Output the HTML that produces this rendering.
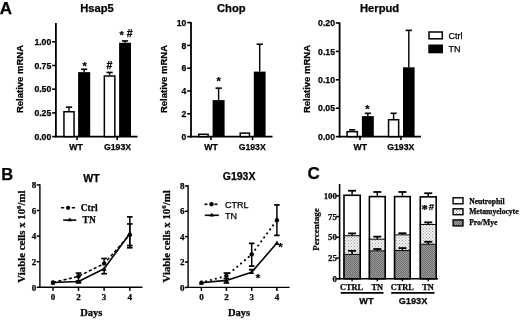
<!DOCTYPE html>
<html><head><meta charset="utf-8"><style>
html,body{margin:0;padding:0;background:#fff;}
svg{display:block;will-change:transform;}
text{stroke:#000;stroke-width:0.25px;paint-order:stroke;}
</style></head><body>
<svg width="520" height="320" viewBox="0 0 520 320">
<rect width="520" height="320" fill="#fff"/>
<text x="-0.30" y="14.40" font-family='"Liberation Sans", sans-serif' font-size="17" font-weight="bold" text-anchor="start">A</text>
<line x1="55.90" y1="23.00" x2="55.90" y2="137.50" stroke="#000" stroke-width="1.8"/>
<line x1="55.00" y1="136.60" x2="137.50" y2="136.60" stroke="#000" stroke-width="1.8"/>
<line x1="52.10" y1="136.60" x2="55.90" y2="136.60" stroke="#000" stroke-width="1.6"/>
<text x="51.30" y="139.70" font-family='"Liberation Sans", sans-serif' font-size="8.7" font-weight="bold" text-anchor="end">0.00</text>
<line x1="52.10" y1="112.90" x2="55.90" y2="112.90" stroke="#000" stroke-width="1.6"/>
<text x="51.30" y="116.00" font-family='"Liberation Sans", sans-serif' font-size="8.7" font-weight="bold" text-anchor="end">0.25</text>
<line x1="52.10" y1="89.20" x2="55.90" y2="89.20" stroke="#000" stroke-width="1.6"/>
<text x="51.30" y="92.30" font-family='"Liberation Sans", sans-serif' font-size="8.7" font-weight="bold" text-anchor="end">0.50</text>
<line x1="52.10" y1="65.50" x2="55.90" y2="65.50" stroke="#000" stroke-width="1.6"/>
<text x="51.30" y="68.60" font-family='"Liberation Sans", sans-serif' font-size="8.7" font-weight="bold" text-anchor="end">0.75</text>
<line x1="52.10" y1="41.80" x2="55.90" y2="41.80" stroke="#000" stroke-width="1.6"/>
<text x="51.30" y="44.90" font-family='"Liberation Sans", sans-serif' font-size="8.7" font-weight="bold" text-anchor="end">1.00</text>
<line x1="77.00" y1="136.60" x2="77.00" y2="140.10" stroke="#000" stroke-width="1.6"/>
<line x1="117.20" y1="136.60" x2="117.20" y2="140.10" stroke="#000" stroke-width="1.6"/>
<line x1="69.00" y1="107.12" x2="69.00" y2="111.00" stroke="#000" stroke-width="1.4"/>
<line x1="65.90" y1="107.12" x2="72.10" y2="107.12" stroke="#000" stroke-width="1.6"/>
<rect x="63.95" y="111.75" width="10.10" height="24.85" fill="#fff" stroke="#000" stroke-width="1.5"/>
<line x1="84.15" y1="69.29" x2="84.15" y2="72.14" stroke="#000" stroke-width="1.4"/>
<line x1="81.05" y1="69.29" x2="87.25" y2="69.29" stroke="#000" stroke-width="1.6"/>
<rect x="78.10" y="72.14" width="12.10" height="64.46" fill="#000"/>
<line x1="109.60" y1="72.42" x2="109.60" y2="75.26" stroke="#000" stroke-width="1.4"/>
<line x1="106.50" y1="72.42" x2="112.70" y2="72.42" stroke="#000" stroke-width="1.6"/>
<rect x="104.35" y="76.01" width="10.50" height="60.59" fill="#fff" stroke="#000" stroke-width="1.5"/>
<line x1="125.05" y1="40.95" x2="125.05" y2="42.75" stroke="#000" stroke-width="1.4"/>
<line x1="121.95" y1="40.95" x2="128.15" y2="40.95" stroke="#000" stroke-width="1.6"/>
<rect x="119.10" y="42.75" width="11.90" height="93.85" fill="#000"/>
<text x="97.00" y="11.80" font-family='"Liberation Sans", sans-serif' font-size="11.2" font-weight="bold" text-anchor="middle">Hsap5</text>
<text x="23.10" y="79.00" font-family='"Liberation Sans", sans-serif' font-size="9.5" font-weight="bold" text-anchor="middle" transform="rotate(-90 23.10 79.00)">Relative mRNA</text>
<text x="76.00" y="149.60" font-family='"Liberation Sans", sans-serif' font-size="8.7" font-weight="bold" text-anchor="middle">WT</text>
<text x="117.50" y="149.60" font-family='"Liberation Sans", sans-serif' font-size="8.7" font-weight="bold" text-anchor="middle">G193X</text>
<text x="84.60" y="69.55" font-family='"Liberation Sans", sans-serif' font-size="11" font-weight="bold" text-anchor="middle">*</text>
<text x="109.30" y="69.00" font-family='"Liberation Sans", sans-serif' font-size="10.5" font-weight="bold" text-anchor="middle">#</text>
<text x="121.70" y="38.70" font-family='"Liberation Sans", sans-serif' font-size="11" font-weight="bold" text-anchor="middle">*</text>
<text x="129.60" y="37.20" font-family='"Liberation Sans", sans-serif' font-size="10.5" font-weight="bold" text-anchor="middle">#</text>
<line x1="191.00" y1="22.00" x2="191.00" y2="137.50" stroke="#000" stroke-width="1.8"/>
<line x1="190.10" y1="136.60" x2="272.50" y2="136.60" stroke="#000" stroke-width="1.8"/>
<line x1="187.20" y1="136.60" x2="191.00" y2="136.60" stroke="#000" stroke-width="1.6"/>
<text x="186.40" y="139.70" font-family='"Liberation Sans", sans-serif' font-size="8.7" font-weight="bold" text-anchor="end">0</text>
<line x1="187.20" y1="113.80" x2="191.00" y2="113.80" stroke="#000" stroke-width="1.6"/>
<text x="186.40" y="116.90" font-family='"Liberation Sans", sans-serif' font-size="8.7" font-weight="bold" text-anchor="end">2</text>
<line x1="187.20" y1="91.00" x2="191.00" y2="91.00" stroke="#000" stroke-width="1.6"/>
<text x="186.40" y="94.10" font-family='"Liberation Sans", sans-serif' font-size="8.7" font-weight="bold" text-anchor="end">4</text>
<line x1="187.20" y1="68.20" x2="191.00" y2="68.20" stroke="#000" stroke-width="1.6"/>
<text x="186.40" y="71.30" font-family='"Liberation Sans", sans-serif' font-size="8.7" font-weight="bold" text-anchor="end">6</text>
<line x1="187.20" y1="45.40" x2="191.00" y2="45.40" stroke="#000" stroke-width="1.6"/>
<text x="186.40" y="48.50" font-family='"Liberation Sans", sans-serif' font-size="8.7" font-weight="bold" text-anchor="end">8</text>
<line x1="187.20" y1="22.60" x2="191.00" y2="22.60" stroke="#000" stroke-width="1.6"/>
<text x="186.40" y="25.70" font-family='"Liberation Sans", sans-serif' font-size="8.7" font-weight="bold" text-anchor="end">10</text>
<line x1="211.00" y1="136.60" x2="211.00" y2="140.10" stroke="#000" stroke-width="1.6"/>
<line x1="252.50" y1="136.60" x2="252.50" y2="140.10" stroke="#000" stroke-width="1.6"/>
<rect x="198.75" y="134.27" width="9.30" height="2.33" fill="#fff" stroke="#000" stroke-width="1.5"/>
<line x1="218.60" y1="88.15" x2="218.60" y2="100.12" stroke="#000" stroke-width="1.4"/>
<line x1="215.50" y1="88.15" x2="221.70" y2="88.15" stroke="#000" stroke-width="1.6"/>
<rect x="212.60" y="100.12" width="12.00" height="36.48" fill="#000"/>
<rect x="240.25" y="133.13" width="9.20" height="3.47" fill="#fff" stroke="#000" stroke-width="1.5"/>
<line x1="259.70" y1="44.26" x2="259.70" y2="71.62" stroke="#000" stroke-width="1.4"/>
<line x1="256.60" y1="44.26" x2="262.80" y2="44.26" stroke="#000" stroke-width="1.6"/>
<rect x="253.80" y="71.62" width="11.80" height="64.98" fill="#000"/>
<text x="231.30" y="11.80" font-family='"Liberation Sans", sans-serif' font-size="11.2" font-weight="bold" text-anchor="middle">Chop</text>
<text x="167.10" y="79.00" font-family='"Liberation Sans", sans-serif' font-size="9.5" font-weight="bold" text-anchor="middle" transform="rotate(-90 167.10 79.00)">Relative mRNA</text>
<text x="211.10" y="149.60" font-family='"Liberation Sans", sans-serif' font-size="8.7" font-weight="bold" text-anchor="middle">WT</text>
<text x="252.20" y="149.60" font-family='"Liberation Sans", sans-serif' font-size="8.7" font-weight="bold" text-anchor="middle">G193X</text>
<text x="218.70" y="84.80" font-family='"Liberation Sans", sans-serif' font-size="11" font-weight="bold" text-anchor="middle">*</text>
<line x1="339.60" y1="22.50" x2="339.60" y2="137.50" stroke="#000" stroke-width="1.8"/>
<line x1="338.70" y1="136.60" x2="421.00" y2="136.60" stroke="#000" stroke-width="1.8"/>
<line x1="335.80" y1="136.60" x2="339.60" y2="136.60" stroke="#000" stroke-width="1.6"/>
<text x="335.00" y="139.70" font-family='"Liberation Sans", sans-serif' font-size="8.7" font-weight="bold" text-anchor="end">0.00</text>
<line x1="335.80" y1="108.20" x2="339.60" y2="108.20" stroke="#000" stroke-width="1.6"/>
<text x="335.00" y="111.30" font-family='"Liberation Sans", sans-serif' font-size="8.7" font-weight="bold" text-anchor="end">0.05</text>
<line x1="335.80" y1="79.80" x2="339.60" y2="79.80" stroke="#000" stroke-width="1.6"/>
<text x="335.00" y="82.90" font-family='"Liberation Sans", sans-serif' font-size="8.7" font-weight="bold" text-anchor="end">0.10</text>
<line x1="335.80" y1="51.40" x2="339.60" y2="51.40" stroke="#000" stroke-width="1.6"/>
<text x="335.00" y="54.50" font-family='"Liberation Sans", sans-serif' font-size="8.7" font-weight="bold" text-anchor="end">0.15</text>
<line x1="335.80" y1="23.00" x2="339.60" y2="23.00" stroke="#000" stroke-width="1.6"/>
<text x="335.00" y="26.10" font-family='"Liberation Sans", sans-serif' font-size="8.7" font-weight="bold" text-anchor="end">0.20</text>
<line x1="360.00" y1="136.60" x2="360.00" y2="140.10" stroke="#000" stroke-width="1.6"/>
<line x1="401.00" y1="136.60" x2="401.00" y2="140.10" stroke="#000" stroke-width="1.6"/>
<line x1="352.20" y1="129.78" x2="352.20" y2="130.92" stroke="#000" stroke-width="1.4"/>
<line x1="349.10" y1="129.78" x2="355.30" y2="129.78" stroke="#000" stroke-width="1.6"/>
<rect x="347.05" y="131.67" width="10.30" height="4.93" fill="#fff" stroke="#000" stroke-width="1.5"/>
<line x1="367.85" y1="113.31" x2="367.85" y2="116.15" stroke="#000" stroke-width="1.4"/>
<line x1="364.75" y1="113.31" x2="370.95" y2="113.31" stroke="#000" stroke-width="1.6"/>
<rect x="361.90" y="116.15" width="11.90" height="20.45" fill="#000"/>
<line x1="393.60" y1="113.31" x2="393.60" y2="118.99" stroke="#000" stroke-width="1.4"/>
<line x1="390.50" y1="113.31" x2="396.70" y2="113.31" stroke="#000" stroke-width="1.6"/>
<rect x="388.55" y="119.74" width="10.10" height="16.86" fill="#fff" stroke="#000" stroke-width="1.5"/>
<line x1="408.80" y1="30.38" x2="408.80" y2="67.30" stroke="#000" stroke-width="1.4"/>
<line x1="405.70" y1="30.38" x2="411.90" y2="30.38" stroke="#000" stroke-width="1.6"/>
<rect x="403.00" y="67.30" width="11.60" height="69.30" fill="#000"/>
<text x="379.60" y="11.80" font-family='"Liberation Sans", sans-serif' font-size="11.2" font-weight="bold" text-anchor="middle">Herpud</text>
<text x="310.20" y="79.00" font-family='"Liberation Sans", sans-serif' font-size="9.5" font-weight="bold" text-anchor="middle" transform="rotate(-90 310.20 79.00)">Relative mRNA</text>
<text x="360.30" y="149.60" font-family='"Liberation Sans", sans-serif' font-size="8.7" font-weight="bold" text-anchor="middle">WT</text>
<text x="400.80" y="149.60" font-family='"Liberation Sans", sans-serif' font-size="8.7" font-weight="bold" text-anchor="middle">G193X</text>
<text x="367.50" y="112.80" font-family='"Liberation Sans", sans-serif' font-size="11" font-weight="bold" text-anchor="middle">*</text>
<rect x="429.00" y="32.00" width="13.30" height="6.80" fill="#fff" stroke="#000" stroke-width="1.5"/>
<rect x="428.30" y="44.50" width="14.70" height="8.80" fill="#000"/>
<text x="448.50" y="39.00" font-family='"Liberation Sans", sans-serif' font-size="9" font-weight="normal" text-anchor="start">Ctrl</text>
<text x="448.50" y="52.30" font-family='"Liberation Sans", sans-serif' font-size="9" font-weight="normal" text-anchor="start">TN</text>
<text x="1.30" y="180.10" font-family='"Liberation Sans", sans-serif' font-size="16.5" font-weight="bold" text-anchor="start">B</text>
<line x1="39.90" y1="184.30" x2="39.90" y2="288.00" stroke="#000" stroke-width="1.4"/>
<line x1="39.20" y1="287.30" x2="142.50" y2="287.30" stroke="#000" stroke-width="1.4"/>
<line x1="36.70" y1="287.30" x2="39.90" y2="287.30" stroke="#000" stroke-width="1.5"/>
<text x="36.30" y="290.50" font-family='"Liberation Serif", serif' font-size="9" font-weight="bold" text-anchor="end">0</text>
<line x1="36.70" y1="261.70" x2="39.90" y2="261.70" stroke="#000" stroke-width="1.5"/>
<text x="36.30" y="264.90" font-family='"Liberation Serif", serif' font-size="9" font-weight="bold" text-anchor="end">2</text>
<line x1="36.70" y1="236.10" x2="39.90" y2="236.10" stroke="#000" stroke-width="1.5"/>
<text x="36.30" y="239.30" font-family='"Liberation Serif", serif' font-size="9" font-weight="bold" text-anchor="end">4</text>
<line x1="36.70" y1="210.50" x2="39.90" y2="210.50" stroke="#000" stroke-width="1.5"/>
<text x="36.30" y="213.70" font-family='"Liberation Serif", serif' font-size="9" font-weight="bold" text-anchor="end">6</text>
<line x1="36.70" y1="184.90" x2="39.90" y2="184.90" stroke="#000" stroke-width="1.5"/>
<text x="36.30" y="188.10" font-family='"Liberation Serif", serif' font-size="9" font-weight="bold" text-anchor="end">8</text>
<line x1="53.00" y1="287.30" x2="53.00" y2="290.80" stroke="#000" stroke-width="1.5"/>
<text x="53.00" y="300.30" font-family='"Liberation Serif", serif' font-size="9" font-weight="bold" text-anchor="middle">0</text>
<line x1="78.50" y1="287.30" x2="78.50" y2="290.80" stroke="#000" stroke-width="1.5"/>
<text x="78.50" y="300.30" font-family='"Liberation Serif", serif' font-size="9" font-weight="bold" text-anchor="middle">2</text>
<line x1="104.10" y1="287.30" x2="104.10" y2="290.80" stroke="#000" stroke-width="1.5"/>
<text x="104.10" y="300.30" font-family='"Liberation Serif", serif' font-size="9" font-weight="bold" text-anchor="middle">3</text>
<line x1="129.80" y1="287.30" x2="129.80" y2="290.80" stroke="#000" stroke-width="1.5"/>
<text x="129.80" y="300.30" font-family='"Liberation Serif", serif' font-size="9" font-weight="bold" text-anchor="middle">4</text>
<text x="91.30" y="315.50" font-family='"Liberation Serif", serif' font-size="10.5" font-weight="bold" text-anchor="middle">Days</text>
<text x="91.40" y="182.00" font-family='"Liberation Sans", sans-serif' font-size="10.5" font-weight="bold" text-anchor="middle">WT</text>
<text x="24.60" y="236.60" font-family='"Liberation Serif", serif' font-size="10.8" font-weight="bold" text-anchor="middle" transform="rotate(-90 24.60 236.60)">Viable cells x 10<tspan dy="-4" font-size="6.8">6</tspan><tspan dy="4">/ml</tspan></text>
<line x1="78.50" y1="280.90" x2="78.50" y2="276.29" stroke="#000" stroke-width="1.5"/>
<line x1="75.70" y1="280.90" x2="81.30" y2="280.90" stroke="#000" stroke-width="1.7"/>
<line x1="78.50" y1="273.09" x2="78.50" y2="276.29" stroke="#000" stroke-width="1.5"/>
<line x1="75.70" y1="273.09" x2="81.30" y2="273.09" stroke="#000" stroke-width="1.7"/>
<line x1="104.10" y1="258.50" x2="104.10" y2="263.62" stroke="#000" stroke-width="1.5"/>
<line x1="101.30" y1="258.50" x2="106.90" y2="258.50" stroke="#000" stroke-width="1.7"/>
<line x1="129.80" y1="247.75" x2="129.80" y2="234.82" stroke="#000" stroke-width="1.5"/>
<line x1="127.00" y1="247.75" x2="132.60" y2="247.75" stroke="#000" stroke-width="1.7"/>
<line x1="129.80" y1="216.90" x2="129.80" y2="234.82" stroke="#000" stroke-width="1.5"/>
<line x1="127.00" y1="216.90" x2="132.60" y2="216.90" stroke="#000" stroke-width="1.7"/>
<line x1="78.50" y1="282.69" x2="78.50" y2="281.54" stroke="#000" stroke-width="1.5"/>
<line x1="75.70" y1="282.69" x2="81.30" y2="282.69" stroke="#000" stroke-width="1.7"/>
<line x1="104.10" y1="273.73" x2="104.10" y2="268.74" stroke="#000" stroke-width="1.5"/>
<line x1="101.30" y1="273.73" x2="106.90" y2="273.73" stroke="#000" stroke-width="1.7"/>
<line x1="129.80" y1="245.57" x2="129.80" y2="233.54" stroke="#000" stroke-width="1.5"/>
<line x1="127.00" y1="245.57" x2="132.60" y2="245.57" stroke="#000" stroke-width="1.7"/>
<line x1="129.80" y1="223.94" x2="129.80" y2="233.54" stroke="#000" stroke-width="1.5"/>
<line x1="127.00" y1="223.94" x2="132.60" y2="223.94" stroke="#000" stroke-width="1.7"/>
<polyline points="53.00,282.56 78.50,276.29 104.10,263.62 129.80,234.82" fill="none" stroke="#000" stroke-width="1.5" stroke-dasharray="3.2,2.2" stroke-linejoin="round"/>
<polyline points="53.00,282.56 78.50,281.54 104.10,268.74 129.80,233.54" fill="none" stroke="#000" stroke-width="1.6" stroke-linejoin="round"/>
<circle cx="53.00" cy="282.56" r="2.2" fill="#000"/>
<circle cx="78.50" cy="276.29" r="2.2" fill="#000"/>
<circle cx="104.10" cy="263.62" r="2.2" fill="#000"/>
<circle cx="129.80" cy="234.82" r="2.2" fill="#000"/>
<path d="M50.50,284.46 L55.50,284.46 L53.00,280.16 Z" fill="#000"/>
<path d="M76.00,283.44 L81.00,283.44 L78.50,279.14 Z" fill="#000"/>
<path d="M101.60,270.64 L106.60,270.64 L104.10,266.34 Z" fill="#000"/>
<path d="M127.30,235.44 L132.30,235.44 L129.80,231.14 Z" fill="#000"/>
<line x1="61.00" y1="207.80" x2="75.20" y2="207.80" stroke="#000" stroke-width="1.5" stroke-dasharray="3.2,2.2"/>
<circle cx="68.10" cy="207.80" r="2.1" fill="#000"/>
<line x1="63.20" y1="220.10" x2="76.30" y2="220.10" stroke="#000" stroke-width="1.6"/>
<path d="M67.35,221.30 L72.15,221.30 L69.75,217.50 Z" fill="#000"/>
<text x="89.20" y="211.10" font-family='"Liberation Serif", serif' font-size="9.5" font-weight="bold" text-anchor="middle">Ctrl</text>
<text x="89.20" y="223.40" font-family='"Liberation Serif", serif' font-size="9.5" font-weight="bold" text-anchor="middle">TN</text>
<line x1="188.10" y1="185.30" x2="188.10" y2="288.10" stroke="#000" stroke-width="1.4"/>
<line x1="187.40" y1="287.40" x2="289.60" y2="287.40" stroke="#000" stroke-width="1.4"/>
<line x1="184.90" y1="287.40" x2="188.10" y2="287.40" stroke="#000" stroke-width="1.5"/>
<text x="184.50" y="290.60" font-family='"Liberation Serif", serif' font-size="9" font-weight="bold" text-anchor="end">0</text>
<line x1="184.90" y1="262.02" x2="188.10" y2="262.02" stroke="#000" stroke-width="1.5"/>
<text x="184.50" y="265.22" font-family='"Liberation Serif", serif' font-size="9" font-weight="bold" text-anchor="end">2</text>
<line x1="184.90" y1="236.65" x2="188.10" y2="236.65" stroke="#000" stroke-width="1.5"/>
<text x="184.50" y="239.85" font-family='"Liberation Serif", serif' font-size="9" font-weight="bold" text-anchor="end">4</text>
<line x1="184.90" y1="211.28" x2="188.10" y2="211.28" stroke="#000" stroke-width="1.5"/>
<text x="184.50" y="214.47" font-family='"Liberation Serif", serif' font-size="9" font-weight="bold" text-anchor="end">6</text>
<line x1="184.90" y1="185.90" x2="188.10" y2="185.90" stroke="#000" stroke-width="1.5"/>
<text x="184.50" y="189.10" font-family='"Liberation Serif", serif' font-size="9" font-weight="bold" text-anchor="end">8</text>
<line x1="201.40" y1="287.40" x2="201.40" y2="290.90" stroke="#000" stroke-width="1.5"/>
<text x="201.40" y="300.30" font-family='"Liberation Serif", serif' font-size="9" font-weight="bold" text-anchor="middle">0</text>
<line x1="226.40" y1="287.40" x2="226.40" y2="290.90" stroke="#000" stroke-width="1.5"/>
<text x="226.40" y="300.30" font-family='"Liberation Serif", serif' font-size="9" font-weight="bold" text-anchor="middle">2</text>
<line x1="251.70" y1="287.40" x2="251.70" y2="290.90" stroke="#000" stroke-width="1.5"/>
<text x="251.70" y="300.30" font-family='"Liberation Serif", serif' font-size="9" font-weight="bold" text-anchor="middle">3</text>
<line x1="276.90" y1="287.40" x2="276.90" y2="290.90" stroke="#000" stroke-width="1.5"/>
<text x="276.90" y="300.30" font-family='"Liberation Serif", serif' font-size="9" font-weight="bold" text-anchor="middle">4</text>
<text x="239.05" y="315.50" font-family='"Liberation Serif", serif' font-size="10.5" font-weight="bold" text-anchor="middle">Days</text>
<text x="239.10" y="180.00" font-family='"Liberation Sans", sans-serif' font-size="10.5" font-weight="bold" text-anchor="middle">G193X</text>
<text x="169.90" y="236.40" font-family='"Liberation Serif", serif' font-size="10.8" font-weight="bold" text-anchor="middle" transform="rotate(-90 169.90 236.40)">Viable cells x 10<tspan dy="-4" font-size="6.8">6</tspan><tspan dy="4">/ml</tspan></text>
<line x1="226.40" y1="278.52" x2="226.40" y2="275.85" stroke="#000" stroke-width="1.5"/>
<line x1="223.60" y1="278.52" x2="229.20" y2="278.52" stroke="#000" stroke-width="1.7"/>
<line x1="226.40" y1="273.06" x2="226.40" y2="275.85" stroke="#000" stroke-width="1.5"/>
<line x1="223.60" y1="273.06" x2="229.20" y2="273.06" stroke="#000" stroke-width="1.7"/>
<line x1="251.70" y1="266.08" x2="251.70" y2="254.41" stroke="#000" stroke-width="1.5"/>
<line x1="248.90" y1="266.08" x2="254.50" y2="266.08" stroke="#000" stroke-width="1.7"/>
<line x1="251.70" y1="243.37" x2="251.70" y2="254.41" stroke="#000" stroke-width="1.5"/>
<line x1="248.90" y1="243.37" x2="254.50" y2="243.37" stroke="#000" stroke-width="1.7"/>
<line x1="276.90" y1="235.38" x2="276.90" y2="220.16" stroke="#000" stroke-width="1.5"/>
<line x1="274.10" y1="235.38" x2="279.70" y2="235.38" stroke="#000" stroke-width="1.7"/>
<line x1="276.90" y1="204.93" x2="276.90" y2="220.16" stroke="#000" stroke-width="1.5"/>
<line x1="274.10" y1="204.93" x2="279.70" y2="204.93" stroke="#000" stroke-width="1.7"/>
<line x1="226.40" y1="282.96" x2="226.40" y2="280.42" stroke="#000" stroke-width="1.5"/>
<line x1="223.60" y1="282.96" x2="229.20" y2="282.96" stroke="#000" stroke-width="1.7"/>
<line x1="251.70" y1="269.64" x2="251.70" y2="272.17" stroke="#000" stroke-width="1.5"/>
<line x1="248.90" y1="269.64" x2="254.50" y2="269.64" stroke="#000" stroke-width="1.7"/>
<polyline points="201.40,282.71 226.40,275.85 251.70,254.41 276.90,220.16" fill="none" stroke="#000" stroke-width="2.1" stroke-dasharray="0.01,5" stroke-linecap="round"/>
<polyline points="201.40,282.71 226.40,280.42 251.70,272.17 276.90,242.99" fill="none" stroke="#000" stroke-width="1.6" stroke-linejoin="round"/>
<circle cx="201.40" cy="282.71" r="2.2" fill="#000"/>
<circle cx="226.40" cy="275.85" r="2.2" fill="#000"/>
<circle cx="251.70" cy="254.41" r="2.2" fill="#000"/>
<circle cx="276.90" cy="220.16" r="2.2" fill="#000"/>
<path d="M198.90,284.61 L203.90,284.61 L201.40,280.31 Z" fill="#000"/>
<path d="M223.90,282.32 L228.90,282.32 L226.40,278.02 Z" fill="#000"/>
<path d="M249.20,274.07 L254.20,274.07 L251.70,269.77 Z" fill="#000"/>
<path d="M274.40,244.89 L279.40,244.89 L276.90,240.59 Z" fill="#000"/>
<line x1="204.60" y1="204.30" x2="207.40" y2="204.30" stroke="#000" stroke-width="1.7"/>
<line x1="214.50" y1="204.30" x2="217.40" y2="204.30" stroke="#000" stroke-width="1.7"/>
<circle cx="211.5" cy="204.30" r="2.2" fill="#000"/>
<line x1="204.80" y1="215.30" x2="218.80" y2="215.30" stroke="#000" stroke-width="1.6"/>
<path d="M209.40,216.50 L214.20,216.50 L211.80,212.70 Z" fill="#000"/>
<text x="224.90" y="207.60" font-family='"Liberation Sans", sans-serif' font-size="9" font-weight="normal" text-anchor="start">CTRL</text>
<text x="224.90" y="218.60" font-family='"Liberation Sans", sans-serif' font-size="9" font-weight="normal" text-anchor="start">TN</text>
<text x="258.00" y="282.20" font-family='"Liberation Sans", sans-serif' font-size="11.5" font-weight="bold" text-anchor="middle">*</text>
<text x="280.40" y="251.40" font-family='"Liberation Sans", sans-serif' font-size="11.5" font-weight="bold" text-anchor="middle">*</text>
<text x="307.40" y="179.20" font-family='"Liberation Sans", sans-serif' font-size="17" font-weight="bold" text-anchor="start">C</text>
<line x1="339.60" y1="184.00" x2="339.60" y2="279.60" stroke="#000" stroke-width="1.6"/>
<line x1="338.80" y1="278.80" x2="438.00" y2="278.80" stroke="#000" stroke-width="1.6"/>
<line x1="336.10" y1="278.80" x2="339.60" y2="278.80" stroke="#000" stroke-width="1.5"/>
<text x="336.90" y="281.90" font-family='"Liberation Serif", serif' font-size="8.8" font-weight="bold" text-anchor="end">0</text>
<line x1="336.10" y1="258.05" x2="339.60" y2="258.05" stroke="#000" stroke-width="1.5"/>
<text x="336.90" y="261.15" font-family='"Liberation Serif", serif' font-size="8.8" font-weight="bold" text-anchor="end">25</text>
<line x1="336.10" y1="237.30" x2="339.60" y2="237.30" stroke="#000" stroke-width="1.5"/>
<text x="336.90" y="240.40" font-family='"Liberation Serif", serif' font-size="8.8" font-weight="bold" text-anchor="end">50</text>
<line x1="336.10" y1="216.55" x2="339.60" y2="216.55" stroke="#000" stroke-width="1.5"/>
<text x="336.90" y="219.65" font-family='"Liberation Serif", serif' font-size="8.8" font-weight="bold" text-anchor="end">75</text>
<line x1="336.10" y1="195.80" x2="339.60" y2="195.80" stroke="#000" stroke-width="1.5"/>
<text x="336.90" y="198.90" font-family='"Liberation Serif", serif' font-size="8.8" font-weight="bold" text-anchor="end">100</text>
<text x="318.80" y="229.50" font-family='"Liberation Serif", serif' font-size="9" font-weight="bold" text-anchor="middle" transform="rotate(-90 318.80 229.50)">Percentage</text>
<defs>
<pattern id="pd" width="2" height="2" patternUnits="userSpaceOnUse"><rect width="2" height="2" fill="#9a9a9a"/><rect x="0" y="0" width="1" height="1" fill="#6a6a6a"/><rect x="1" y="1" width="1" height="1" fill="#707070"/></pattern>
<pattern id="pl" width="3" height="3" patternUnits="userSpaceOnUse"><rect width="3" height="3" fill="#f2f2f2"/><rect x="0" y="0" width="1" height="1" fill="#a0a0a0"/><rect x="1.5" y="1.5" width="1" height="1" fill="#a8a8a8"/></pattern>
</defs>
<rect x="343.20" y="254.40" width="17.80" height="24.40" fill="url(#pd)"/>
<rect x="343.20" y="235.72" width="17.80" height="18.68" fill="url(#pl)"/>
<rect x="343.20" y="194.47" width="17.80" height="41.25" fill="#fff"/>
<line x1="343.20" y1="254.40" x2="361.00" y2="254.40" stroke="#000" stroke-width="1.0"/>
<line x1="343.20" y1="235.72" x2="361.00" y2="235.72" stroke="#000" stroke-width="1.0"/>
<line x1="352.10" y1="254.40" x2="352.10" y2="250.83" stroke="#000" stroke-width="1.5"/>
<line x1="348.10" y1="250.83" x2="356.10" y2="250.83" stroke="#000" stroke-width="1.8"/>
<line x1="352.10" y1="235.72" x2="352.10" y2="233.40" stroke="#000" stroke-width="1.5"/>
<line x1="348.10" y1="233.40" x2="356.10" y2="233.40" stroke="#000" stroke-width="1.8"/>
<line x1="352.10" y1="194.47" x2="352.10" y2="190.74" stroke="#000" stroke-width="1.5"/>
<line x1="348.10" y1="190.74" x2="356.10" y2="190.74" stroke="#000" stroke-width="1.8"/>
<rect x="344.00" y="195.27" width="16.20" height="83.53" fill="none" stroke="#000" stroke-width="1.6"/>
<line x1="352.10" y1="278.80" x2="352.10" y2="281.30" stroke="#000" stroke-width="1.4"/>
<rect x="368.60" y="250.83" width="17.40" height="27.97" fill="url(#pd)"/>
<rect x="368.60" y="239.21" width="17.40" height="11.62" fill="url(#pl)"/>
<rect x="368.60" y="195.80" width="17.40" height="43.41" fill="#fff"/>
<line x1="368.60" y1="250.83" x2="386.00" y2="250.83" stroke="#000" stroke-width="1.0"/>
<line x1="368.60" y1="239.21" x2="386.00" y2="239.21" stroke="#000" stroke-width="1.0"/>
<line x1="377.30" y1="250.83" x2="377.30" y2="249.00" stroke="#000" stroke-width="1.5"/>
<line x1="373.30" y1="249.00" x2="381.30" y2="249.00" stroke="#000" stroke-width="1.8"/>
<line x1="377.30" y1="239.21" x2="377.30" y2="236.64" stroke="#000" stroke-width="1.5"/>
<line x1="373.30" y1="236.64" x2="381.30" y2="236.64" stroke="#000" stroke-width="1.8"/>
<line x1="377.30" y1="195.80" x2="377.30" y2="191.98" stroke="#000" stroke-width="1.5"/>
<line x1="373.30" y1="191.98" x2="381.30" y2="191.98" stroke="#000" stroke-width="1.8"/>
<rect x="369.40" y="196.60" width="15.80" height="82.20" fill="none" stroke="#000" stroke-width="1.6"/>
<line x1="377.30" y1="278.80" x2="377.30" y2="281.30" stroke="#000" stroke-width="1.4"/>
<rect x="393.80" y="250.58" width="17.20" height="28.22" fill="url(#pd)"/>
<rect x="393.80" y="234.89" width="17.20" height="15.69" fill="url(#pl)"/>
<rect x="393.80" y="195.80" width="17.20" height="39.09" fill="#fff"/>
<line x1="393.80" y1="250.58" x2="411.00" y2="250.58" stroke="#000" stroke-width="1.0"/>
<line x1="393.80" y1="234.89" x2="411.00" y2="234.89" stroke="#000" stroke-width="1.0"/>
<line x1="402.40" y1="250.58" x2="402.40" y2="248.09" stroke="#000" stroke-width="1.5"/>
<line x1="398.40" y1="248.09" x2="406.40" y2="248.09" stroke="#000" stroke-width="1.8"/>
<line x1="402.40" y1="234.89" x2="402.40" y2="233.23" stroke="#000" stroke-width="1.5"/>
<line x1="398.40" y1="233.23" x2="406.40" y2="233.23" stroke="#000" stroke-width="1.8"/>
<line x1="402.40" y1="195.80" x2="402.40" y2="191.98" stroke="#000" stroke-width="1.5"/>
<line x1="398.40" y1="191.98" x2="406.40" y2="191.98" stroke="#000" stroke-width="1.8"/>
<rect x="394.60" y="196.60" width="15.60" height="82.20" fill="none" stroke="#000" stroke-width="1.6"/>
<line x1="402.40" y1="278.80" x2="402.40" y2="281.30" stroke="#000" stroke-width="1.4"/>
<rect x="419.50" y="244.27" width="17.50" height="34.53" fill="url(#pd)"/>
<rect x="419.50" y="224.44" width="17.50" height="19.84" fill="url(#pl)"/>
<rect x="419.50" y="196.05" width="17.50" height="28.39" fill="#fff"/>
<line x1="419.50" y1="244.27" x2="437.00" y2="244.27" stroke="#000" stroke-width="1.0"/>
<line x1="419.50" y1="224.44" x2="437.00" y2="224.44" stroke="#000" stroke-width="1.0"/>
<line x1="428.25" y1="244.27" x2="428.25" y2="241.78" stroke="#000" stroke-width="1.5"/>
<line x1="424.25" y1="241.78" x2="432.25" y2="241.78" stroke="#000" stroke-width="1.8"/>
<line x1="428.25" y1="224.44" x2="428.25" y2="222.36" stroke="#000" stroke-width="1.5"/>
<line x1="424.25" y1="222.36" x2="432.25" y2="222.36" stroke="#000" stroke-width="1.8"/>
<line x1="428.25" y1="196.05" x2="428.25" y2="193.23" stroke="#000" stroke-width="1.5"/>
<line x1="424.25" y1="193.23" x2="432.25" y2="193.23" stroke="#000" stroke-width="1.8"/>
<rect x="420.30" y="196.85" width="15.90" height="81.95" fill="none" stroke="#000" stroke-width="1.6"/>
<line x1="428.25" y1="278.80" x2="428.25" y2="281.30" stroke="#000" stroke-width="1.4"/>
<text x="424.70" y="212.80" font-family='"Liberation Serif", serif' font-size="12.5" font-weight="bold" text-anchor="middle">*</text>
<text x="431.40" y="210.40" font-family='"Liberation Sans", sans-serif' font-size="9.5" font-weight="bold" text-anchor="middle">#</text>
<text x="351.50" y="290.30" font-family='"Liberation Serif", serif' font-size="8.3" font-weight="bold" text-anchor="middle">CTRL</text>
<text x="377.20" y="290.30" font-family='"Liberation Serif", serif' font-size="8.3" font-weight="bold" text-anchor="middle">TN</text>
<text x="402.30" y="290.30" font-family='"Liberation Serif", serif' font-size="8.3" font-weight="bold" text-anchor="middle">CTRL</text>
<text x="428.00" y="290.30" font-family='"Liberation Serif", serif' font-size="8.3" font-weight="bold" text-anchor="middle">TN</text>
<line x1="340.70" y1="292.90" x2="383.50" y2="292.90" stroke="#000" stroke-width="1.6"/>
<line x1="391.20" y1="292.90" x2="434.50" y2="292.90" stroke="#000" stroke-width="1.6"/>
<text x="366.40" y="303.60" font-family='"Liberation Sans", sans-serif' font-size="9.2" font-weight="bold" text-anchor="middle">WT</text>
<text x="413.00" y="303.60" font-family='"Liberation Sans", sans-serif' font-size="9.2" font-weight="bold" text-anchor="middle">G193X</text>
<rect x="453.10" y="197.80" width="9.90" height="6.00" fill="#fff" stroke="#000" stroke-width="1.4"/>
<rect x="453.10" y="208.80" width="9.90" height="5.90" fill="url(#pl)" stroke="#000" stroke-width="1.4"/>
<rect x="453.10" y="219.90" width="9.90" height="6.00" fill="url(#pd)" stroke="#000" stroke-width="1.4"/>
<text x="469.20" y="203.60" font-family='"Liberation Serif", serif' font-size="7.6" font-weight="bold" text-anchor="start">Neutrophil</text>
<text x="469.20" y="214.30" font-family='"Liberation Serif", serif' font-size="7.6" font-weight="bold" text-anchor="start">Metamyelocyte</text>
<text x="469.20" y="225.30" font-family='"Liberation Serif", serif' font-size="7.6" font-weight="bold" text-anchor="start">Pro/Mye</text>
</svg>
</body></html>
